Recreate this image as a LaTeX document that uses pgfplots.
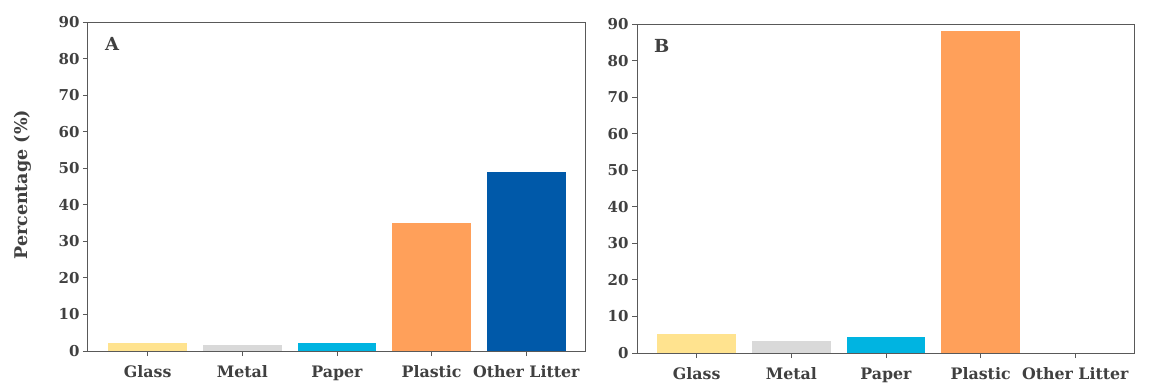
\documentclass[border=0pt]{standalone}
\usepackage{fontspec}
\setmainfont{DejaVu Serif}
\usepackage{pgfplots}
\pgfplotsset{compat=1.18}
\definecolor{txt}{HTML}{404040}
\definecolor{axcol}{HTML}{595959}
\definecolor{cglass}{HTML}{FFE38F}
\definecolor{cmetal}{HTML}{D9D9D9}
\definecolor{cpaper}{HTML}{00B4E1}
\definecolor{cplastic}{HTML}{FFA05A}
\definecolor{cother}{HTML}{0059A9}
\pgfplotsset{panel/.style={
  scale only axis, width=497pt, height=329pt,
  xmin=-0.63, xmax=4.62, ymin=0, ymax=90,
  ytick={0,10,...,90}, xtick={0,1,2,3,4},
  xticklabels={Glass,Metal,Paper,Plastic,Other Litter},
  xtick pos=bottom, ytick pos=left,
  tick align=outside, major tick length=5pt,
  tick style={axcol, line width=0.8pt},
  axis line style={axcol, line width=1pt},
  ybar, bar width=0.83, bar shift=0pt,
  x tick label style={font=\fontsize{15.8}{16}\selectfont\bfseries, text=txt, yshift=-6pt},
  y tick label style={font=\fontsize{15}{15}\selectfont\bfseries, text=txt},
  /pgf/number format/assume math mode=true,
}}
\begin{document}
\begin{tikzpicture}
\path[use as bounding box] (-88pt,-33pt) rectangle (1061pt,351pt);
\begin{axis}[panel,
  ylabel={Percentage (\%)},
  ylabel style={at={(axis description cs:-0.132,0.505)}, anchor=center, font=\fontsize{17.5}{17.5}\selectfont\bfseries, text=txt}]
\addplot[fill=cglass, draw=none] coordinates {(0,2.1)};
\addplot[fill=cmetal, draw=none] coordinates {(1,1.6)};
\addplot[fill=cpaper, draw=none] coordinates {(2,2.1)};
\addplot[fill=cplastic, draw=none] coordinates {(3,35.1)};
\addplot[fill=cother, draw=none] coordinates {(4,48.9)};
\node[anchor=north west, inner sep=0pt, font=\fontsize{18}{18}\selectfont\bfseries, text=txt] at (rel axis cs:0.034,0.954) {A};
\end{axis}
\begin{axis}[panel, at={(549pt,-2pt)}]
\addplot[fill=cglass, draw=none] coordinates {(0,5.2)};
\addplot[fill=cmetal, draw=none] coordinates {(1,3.2)};
\addplot[fill=cpaper, draw=none] coordinates {(2,4.3)};
\addplot[fill=cplastic, draw=none] coordinates {(3,88.1)};
\node[anchor=north west, inner sep=0pt, font=\fontsize{18}{18}\selectfont\bfseries, text=txt] at (rel axis cs:0.034,0.954) {B};
\end{axis}
\end{tikzpicture}
\end{document}
